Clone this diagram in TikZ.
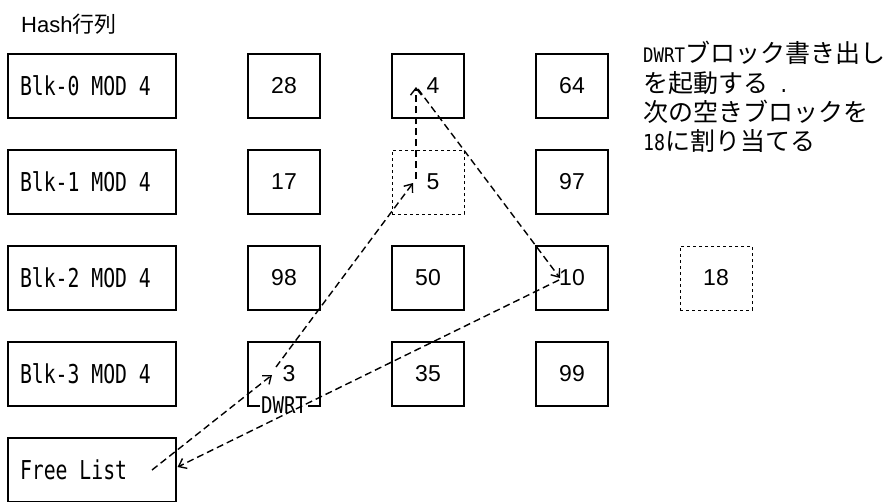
\documentclass[tikz,border=0pt]{standalone}
\usepackage{fontspec}
\usepackage{graphicx}
\setmainfont{Liberation Sans}
\newfontfamily\jpfont{Noto Sans CJK JP}
\newfontfamily\monofont{DejaVu Sans Mono}
\usetikzlibrary{arrows.meta,calc}
\newcommand\hwtext[2]{\scalebox{#1}[1]{\monofont #2}}
\newcommand\msp{\hspace*{0.602em}}
\begin{document}
\begin{tikzpicture}[x=1pt,y=-1pt,
  box/.style={draw, line width=1.2pt, minimum width=72pt, minimum height=64pt, inner sep=0pt, font=\fontsize{23}{27}\selectfont},
  dbox/.style={box, line width=1pt, dash pattern=on 3pt off 3pt},
  wbox/.style={draw, line width=1.2pt, minimum height=64pt, text width=144pt, inner xsep=12pt, inner ysep=0pt, align=left, font=\fontsize{26}{30}\selectfont},
  notetext/.style={anchor=base west, inner sep=0pt, font=\fontsize{25}{29}\selectfont},
  arr/.style={line width=1.4pt, dash pattern=on 7pt off 4pt, -{Straight Barb[length=7pt,width=11pt]}}
]
\useasboundingbox (0,0) rectangle (885,501);

% title
\node[anchor=base west, inner sep=0pt, font=\fontsize{22}{26}\selectfont] (title) at (21,32) {Hash{\jpfont 行列}};

% left column
\node[wbox] (k0) at (92,86)  {\hwtext{0.76}{Blk-0\msp MOD\msp 4}};
\node[wbox] (k1) at (92,182) {\hwtext{0.76}{Blk-1\msp MOD\msp 4}};
\node[wbox] (k2) at (92,278) {\hwtext{0.76}{Blk-2\msp MOD\msp 4}};
\node[wbox] (k3) at (92,374) {\hwtext{0.76}{Blk-3\msp MOD\msp 4}};
\node[wbox] (fl) at (92,470) {\hwtext{0.76}{Free\msp List}};

% data boxes
\node[box]  (b28) at (284,86)  {28};
\node[box]  (b4)  at (428,86)  {\hspace*{10pt}4};
\node[box]  (b64) at (572,86)  {64};
\node[box]  (b17) at (284,182) {17};
\node[dbox] (b5)  at (428,182) {\hspace*{10pt}5};
\node[box]  (b97) at (572,182) {97};
\node[box]  (b98) at (284,278) {98};
\node[box]  (b50) at (428,278) {50};
\node[box]  (b10) at (572,278) {10};
\node[dbox] (b18) at (716,278) {18};
\node[box]  (b3)  at (284,374) {\hspace*{10pt}3};
\node[box]  (b35) at (428,374) {35};
\node[box]  (b99) at (572,374) {99};

% DWRT label
\node[fill=white, inner sep=1pt, font=\fontsize{23}{26}\selectfont] (dw) at (284,405) {\hwtext{0.83}{DWRT}};

% note
\node[notetext] (n1) at (643,62)  {{\fontsize{20}{22}\selectfont\hwtext{0.87}{DWRT}}{\jpfont ブロック書き出し}};
\node[notetext] (n2) at (643,92)  {{\jpfont を起動する}{\fontsize{20}{22}\selectfont\hwtext{0.87}{\msp.}}};
\node[notetext] (n3) at (643,121) {{\jpfont 次の空きブロックを}};
\node[notetext] (n4) at (643,150) {{\fontsize{22}{22}\selectfont\hwtext{0.83}{18}}{\jpfont に割り当てる}};

% connector end points
\coordinate (a1) at ($(fl.center)+(60,0)$);
\coordinate (a2) at ($(b3.center)+(-12,1)$);
\coordinate (c1) at ($(b3.center)+(-8,-7)$);
\coordinate (c2) at ($(b5.center)+(-15,1)$);
\coordinate (d1) at ($(b5.center)+(-12,-3)$);
\coordinate (d2) at ($(b4.center)+(-12,1)$);
\coordinate (e1) at ($(b4.center)+(-10,3)$);
\coordinate (e2) at ($(b10.center)+(-12,0)$);
\coordinate (f1) at ($(b10.center)+(-13,2)$);
\coordinate (f2) at ($(fl.east)+(1,-3)$);

\draw[arr] (a1) -- (a2);
\draw[arr] (c1) -- (c2);
\draw[arr] (d1) -- (d2);
\draw[arr] (e1) -- (e2);
\draw[arr] (f1) -- (f2);
\end{tikzpicture}
\end{document}
